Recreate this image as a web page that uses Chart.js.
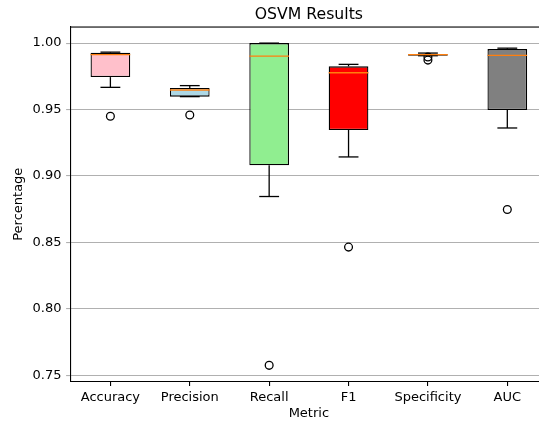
<!DOCTYPE html>
<html>
<head>
<meta charset="utf-8">
<script src="https://cdn.jsdelivr.net/npm/chart.js@4/dist/chart.umd.min.js"></script>
<style>
  html, body { margin: 0; padding: 0; background: #fff; overflow: hidden; }
  #wrap { width: 560px; height: 425px; }
</style>
</head>
<body>
<div id="wrap"><canvas id="c" width="560" height="425"></canvas></div>
<script>
// Box-plot summary per metric
const metrics   = ['Accuracy', 'Precision', 'Recall', 'F1', 'Specificity', 'AUC'];
const whiskLow  = [0.9667, 0.9597, 0.8845, 0.9143, 0.9905, 0.9361];
const q1        = [0.9744, 0.9597, 0.9080, 0.9346, 0.9905, 0.9496];
const medians   = [0.9913, 0.9647, 0.9902, 0.9777, 0.9913, 0.9908];
const q3        = [0.9928, 0.9662, 1.0000, 0.9825, 0.9917, 0.9955];
const whiskHigh = [0.9932, 0.9680, 1.0000, 0.9840, 0.9925, 0.9962];
const outlierCats = ['Accuracy', 'Precision', 'Recall', 'F1', 'Specificity', 'Specificity', 'AUC'];
const outlierVals = [0.9449, 0.9459, 0.7574, 0.8464, 0.9895, 0.9872, 0.8747];
const boxColors = ['pink', 'lightblue', 'lightgreen', 'red', 'orange', 'gray'];
const yTicks    = [0.75, 0.80, 0.85, 0.90, 0.95, 1.00];

const FONT = 'DejaVu Sans';

// whiskers, caps and medians on top of the boxes, plus the top frame edge
const boxExtras = {
  id: 'boxExtras',
  afterDatasetsDraw(chart) {
    const ctx = chart.ctx;
    const xs = chart.scales.x, ys = chart.scales.y;
    const bars = chart.getDatasetMeta(0).data;
    ctx.save();
    ctx.lineCap = 'butt';
    for (let i = 0; i < metrics.length; i++) {
      const x = xs.getPixelForValue(i);
      const w = bars[i].width;
      const capHalf = w / 4;
      const yq1 = ys.getPixelForValue(q1[i]);
      const yq3 = ys.getPixelForValue(q3[i]);
      const ylo = ys.getPixelForValue(whiskLow[i]);
      const yhi = ys.getPixelForValue(whiskHigh[i]);
      const ym = ys.getPixelForValue(medians[i]);
      ctx.strokeStyle = '#000';
      ctx.lineWidth = 1.3;
      ctx.beginPath();
      ctx.moveTo(x, yq1); ctx.lineTo(x, ylo);
      ctx.stroke();
      ctx.beginPath();
      ctx.moveTo(x, yq3); ctx.lineTo(x, yhi);
      ctx.stroke();
      ctx.beginPath();
      ctx.moveTo(x - capHalf, ylo); ctx.lineTo(x + capHalf, ylo);
      ctx.stroke();
      ctx.beginPath();
      ctx.moveTo(x - capHalf, yhi); ctx.lineTo(x + capHalf, yhi);
      ctx.stroke();
      ctx.strokeStyle = '#ff7f0e';
      ctx.lineWidth = 1.4;
      ctx.beginPath();
      ctx.moveTo(x - w / 2, ym); ctx.lineTo(x + w / 2, ym);
      ctx.stroke();
    }
    const a = chart.chartArea;
    ctx.fillStyle = '#000';
    ctx.fillRect(a.left, a.top - 0.55, a.right - a.left, 1.1);
    ctx.restore();
  }
};

new Chart(document.getElementById('c'), {
  data: {
    labels: metrics,
    datasets: [
      {
        type: 'bar',
        data: metrics.map((m, i) => [q1[i], q3[i]]),
        backgroundColor: boxColors,
        borderColor: '#000',
        borderWidth: 1.3,
        borderSkipped: false,
        barPercentage: 0.5,
        categoryPercentage: 1.0,
        order: 2
      },
      {
        type: 'line',
        data: outlierCats.map((c, i) => ({ x: c, y: outlierVals[i] })),
        showLine: false,
        pointRadius: 3.9,
        pointBackgroundColor: 'rgba(0,0,0,0)',
        pointBorderColor: '#000',
        borderColor: 'rgba(0,0,0,0)',
        pointBorderWidth: 1.3,
        order: 1
      }
    ]
  },
  options: {
    responsive: false,
    animation: false,
    layout: { padding: { left: 0, right: 13, top: 0, bottom: 0 } },
    plugins: {
      legend: { display: false },
      tooltip: { enabled: false },
      title: {
        display: true,
        text: 'OSVM Results',
        fullSize: false,
        color: '#000',
        font: { family: FONT, size: 15.7, weight: 'normal' },
        padding: { top: 5.4, bottom: 2.8 }
      }
    },
    scales: {
      x: {
        offset: true,
        grid: { drawOnChartArea: false, tickLength: 4.6, color: '#000', offset: false, lineWidth: 1.1 },
        border: { display: true, color: '#000', width: 1.1 },
        ticks: { color: '#000', padding: 4.3, font: { family: FONT, size: 13 } },
        title: { display: true, text: 'Metric', color: '#000', font: { family: FONT, size: 13 }, padding: { top: 0, bottom: 4.0 } },
        afterFit(s) { s.height = 43.6; }
      },
      y: {
        min: 0.7453,
        max: 1.0121,
        grid: { color: '#b0b0b0', lineWidth: 1.1, tickLength: 4.6 },
        border: { display: true, color: '#000', width: 1.1 },
        ticks: { color: '#000', padding: 4.6, font: { family: FONT, size: 13 }, callback: v => v.toFixed(2) },
        afterBuildTicks(s) { s.ticks = yTicks.map(v => ({ value: v })); },
        title: { display: true, text: 'Percentage', color: '#000', font: { family: FONT, size: 13 }, padding: { top: 10.7, bottom: 0 } },
        afterFit(s) { s.width = 70.7; }
      }
    }
  },
  plugins: [boxExtras]
});
</script>
</body>
</html>
